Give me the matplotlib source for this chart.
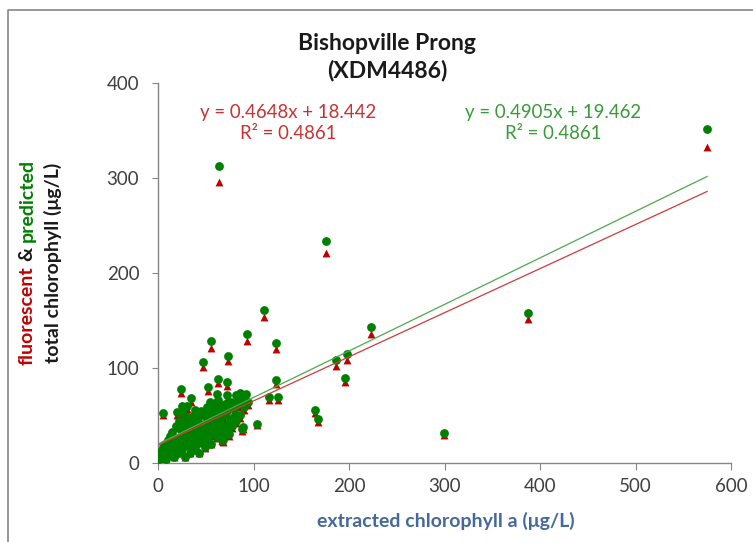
import matplotlib
matplotlib.use('Agg')
import matplotlib.pyplot as plt
from matplotlib.lines import Line2D
import numpy as np

# extracted chlorophyll a (x), predicted (green circles), fluorescent (red triangles)
extracted = [
    575, 176, 387, 223, 198, 186, 196, 164, 168, 299.5,
    110.5, 124, 124, 116.5, 126, 104, 93.7, 55, 73.8, 47,
    63, 72.4, 52.8, 24, 35, 5, 89.5, 64,
    61.6, 72, 87.8, 84, 24.9, 54.5, 38.8, 28.3, 51, 66.8,
    80.8, 75.5, 73.8, 63.3, 38.8, 45.9, 35.4, 61.6, 68.5, 51,
    30, 25, 31.8, 40.5, 19.5, 26.5, 44, 82, 86, 75.5,
    67, 88,
    1, 2, 3, 4, 5, 6, 7, 8, 9, 10,
    11, 12, 13, 14, 15, 16, 17, 18, 19, 20,
    21, 22, 23, 24, 25, 26, 27, 28, 29, 30,
    31, 32, 33, 34, 35, 36, 37, 38, 39, 40,
    41, 42, 43, 44, 45, 46, 47, 48, 49, 50,
    51, 52, 53, 54, 55, 56, 57, 58, 59, 60,
    61, 62, 63, 64, 65, 66, 67, 68, 69, 70,
    71, 72,
    74, 75, 76, 78, 80, 82, 84, 86, 88, 90, 92, 94,
]
predicted = [
    351, 233, 158, 142.5, 114, 107.6, 89.5, 55, 45.5, 30.6,
    161, 126, 87, 69, 69, 41, 135, 127.7, 112.6, 106,
    88, 85, 80, 77.4, 67.5, 52.4, 37, 312,
    72.5, 70.7, 70.7, 63.6, 60, 63.6, 55, 47.8, 51.4, 51.4,
    49.6, 42.5, 33.8, 39, 40.8, 30.3, 37.3, 26.7, 23.2, 25,
    60, 53, 37, 46, 53, 58, 53, 70.7, 73, 62,
    25, 35.5,
    4, 8, 12, 6, 16, 10, 20, 4, 14, 24,
    8, 18, 28, 12, 32, 22, 6, 16, 38, 26,
    10, 44, 20, 34, 14, 30, 40, 6, 24, 18,
    48, 36, 10, 28, 42, 22, 14, 50, 32, 18,
    26, 44, 10, 36, 54, 22, 30, 40, 16, 48,
    58, 26, 34, 44, 20, 52, 62, 30, 38, 48,
    56, 28, 66, 36, 44, 58, 24, 50, 32, 62,
    40, 54,
    30, 46, 64, 38, 56, 44, 62, 50, 68, 58, 72, 64,
]
fluorescent = [
    333, 221, 151, 135, 108, 102, 85, 52, 43, 29,
    153, 119.5, 82.5, 65.5, 65.5, 39, 128, 121, 106.7, 100.5,
    83.4, 80.5, 75.8, 73.3, 64, 49.7, 35, 295.6,
    68.7, 67, 67, 60.3, 56.9, 60.3, 52.1, 45.3, 48.7, 48.7,
    47, 40.3, 32, 37, 38.7, 28.7, 35.3, 25.3, 22, 23.7,
    56.9, 50.2, 35.1, 43.6, 50.2, 55, 50.2, 67, 69.2, 58.8,
    23.7, 33.6,
    3.8, 7.6, 11.4, 5.7, 15.2, 9.5, 19.0, 3.8, 13.3, 22.7,
    7.6, 17.1, 26.5, 11.4, 30.3, 20.8, 5.7, 15.2, 36.0, 24.6,
    9.5, 41.7, 19.0, 32.2, 13.3, 28.4, 37.9, 5.7, 22.7, 17.1,
    45.5, 34.1, 9.5, 26.5, 39.8, 20.8, 13.3, 47.4, 30.3, 17.1,
    24.6, 41.7, 9.5, 34.1, 51.2, 20.8, 28.4, 37.9, 15.2, 45.5,
    55.0, 24.6, 32.2, 41.7, 19.0, 49.3, 58.8, 28.4, 36.0, 45.5,
    53.1, 26.5, 62.5, 34.1, 41.7, 55.0, 22.7, 47.4, 30.3, 58.8,
    37.9, 51.2,
    28.4, 43.6, 60.6, 36.0, 53.1, 41.7, 58.8, 47.4, 64.4, 55.0, 68.2, 60.6,
]

# trendline coefficients shown on the chart
fluor_fit = (0.4648, 18.442)
pred_fit = (0.4905, 19.462)
r2 = 0.4861

xticks = [0, 100, 200, 300, 400, 500, 600]
yticks = [0, 100, 200, 300, 400]

RED = '#C00000'
GREEN = '#008000'

W, H = 753, 542
plt.rcParams['font.family'] = ['Lato', 'DejaVu Sans']
fig = plt.figure(figsize=(W / 100, H / 100), dpi=100)


def fx(px):
    return px / W


def fy(py):
    return 1 - py / H


ax = fig.add_axes([fx(158), fy(462.5), (731 - 158) / W, (462.5 - 83) / H])

x = np.array(extracted)
ax.scatter(x, fluorescent, marker='^', s=32, color=RED, linewidths=0, zorder=2)
ax.scatter(x, predicted, marker='o', s=40, color=GREEN, linewidths=0, zorder=3)

xl = np.array([x.min(), x.max()])
ax.plot(xl, fluor_fit[0] * xl + fluor_fit[1], color='#D03A3A', lw=0.9, zorder=4)
ax.plot(xl, pred_fit[0] * xl + pred_fit[1], color='#4FA84F', lw=0.9, zorder=4)

ax.set_xlim(0, 600)
ax.set_ylim(0, 400)
ax.set_xticks(xticks)
ax.set_yticks(yticks)
for s in ['top', 'right']:
    ax.spines[s].set_visible(False)
for s in ['left', 'bottom']:
    ax.spines[s].set_color('#868686')
    ax.spines[s].set_linewidth(1.0)
ax.tick_params(axis='x', direction='out', length=5, pad=6, color='#868686',
               labelcolor='#404040', labelsize=13.5)
ax.tick_params(axis='y', direction='out', length=4.5, pad=9, color='#868686',
               labelcolor='#404040', labelsize=13.5)

fig.text(fx(387), fy(57), 'Bishopville Prong\n(XDM4486)', ha='center', va='center',
         weight='bold', size=16.5, linespacing=1.3, color='#1a1a1a')

fig.text(fx(288), fy(123), f'y = {fluor_fit[0]}x + {fluor_fit[1]}\nR\u00b2 = {r2}',
         ha='center', va='center', size=13.4, linespacing=1.3, color='#C83232')
fig.text(fx(553), fy(123), f'y = {pred_fit[0]}x + {pred_fit[1]}\nR\u00b2 = {r2}',
         ha='center', va='center', size=13.4, linespacing=1.3, color='#3A9A3A')

fig.text(fx(446), fy(521), 'extracted chlorophyll a (\u03bcg/L)', ha='center', va='center',
         weight='bold', size=14, color='#44699A')


def rotated_label(parts, xc, yc, gap=5):
    texts = [fig.text(0, 0, s, color=c, rotation=90, rotation_mode='anchor',
                      ha='left', va='center', weight='bold', size=14)
             for s, c in parts]
    fig.canvas.draw()
    r = fig.canvas.get_renderer()
    lens = [t.get_window_extent(r).height for t in texts]
    total = sum(lens) + gap * (len(lens) - 1)
    y = (H - yc) - total / 2
    for t, L in zip(texts, lens):
        t.set_position((xc / W, y / H))
        y += L + gap


rotated_label([('fluorescent', RED), ('&', '#1a1a1a'), ('predicted', GREEN)], 27, 262)
rotated_label([('total chlorophyll (\u03bcg/L)', '#1a1a1a')], 53, 263)

# chart area border (only left and top show in the frame)
fig.add_artist(Line2D([fx(7.5), fx(7.5), fx(753)], [fy(542), fy(10), fy(10)],
                      transform=fig.transFigure, color='#868686', lw=1.2))

fig.savefig('out.png', dpi=100)
